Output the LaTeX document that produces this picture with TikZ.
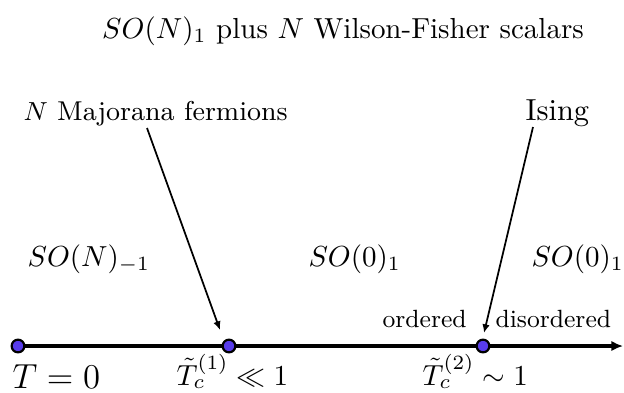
\documentclass[tikz,border=0pt]{standalone}
\usetikzlibrary{arrows.meta}
\definecolor{dotblue}{RGB}{88,60,235}
\begin{document}
\begin{tikzpicture}[x=0.345pt,y=-0.345pt,
  lbl/.style={inner sep=0pt,anchor=base west},
  dotnode/.style={circle,draw=black,line width=0.75pt,fill=dotblue,minimum size=4.4pt,inner sep=0pt},
  axisline/.style={line width=1.05pt,-{Latex[length=4pt,width=3.6pt]}},
  pointer/.style={line width=0.6pt,-{Latex[length=3pt,width=2.6pt]}}]
\useasboundingbox (0,0) rectangle (624,392);
\node[inner sep=0pt,anchor=base] (title) at (343,38) {$SO(N)_1$ plus $N$ Wilson-Fisher scalars};
\node[lbl] (maj) at (23,120) {\fontsize{9.4}{11}\selectfont $N$ Majorana fermions};
\node[lbl] (ising) at (525,120) {\fontsize{10.5}{13}\selectfont Ising};
\node[lbl] (son) at (27,266) {$SO(N)_{-1}$};
\node[lbl] (soa) at (308,266) {$SO(0)_1$};
\node[lbl] (sob) at (531,266) {$SO(0)_1$};
\node[lbl] (ord) at (382,327) {\fontsize{8.6}{10}\selectfont ordered};
\node[lbl] (dis) at (495,327) {\fontsize{8.6}{10}\selectfont disordered};
\node[lbl] (t0) at (12,388) {\fontsize{12.6}{15}\selectfont $T=0$};
\node[lbl] (t1) at (176,385) {\fontsize{10.3}{12}\selectfont $\tilde{T}_c^{(1)}\ll 1$};
\node[lbl] (t2) at (422,385) {\fontsize{10.3}{12}\selectfont $\tilde{T}_c^{(2)}\sim 1$};
\coordinate (p0) at (18,346);
\coordinate (p1) at (229,346);
\coordinate (p2) at (483,346);
\coordinate (pend) at (623,346);
\draw[axisline] (p0) -- (pend);
\node[dotnode] (d0) at (p0) {};
\node[dotnode] (d1) at (p1) {};
\node[dotnode] (d2) at (p2) {};
\coordinate (ma) at (147,128);
\coordinate (mb) at (220,330);
\coordinate (ia) at (533,127);
\coordinate (ib) at (484,333);
\draw[pointer] (ma) -- (mb);
\draw[pointer] (ia) -- (ib);
\end{tikzpicture}
\end{document}
